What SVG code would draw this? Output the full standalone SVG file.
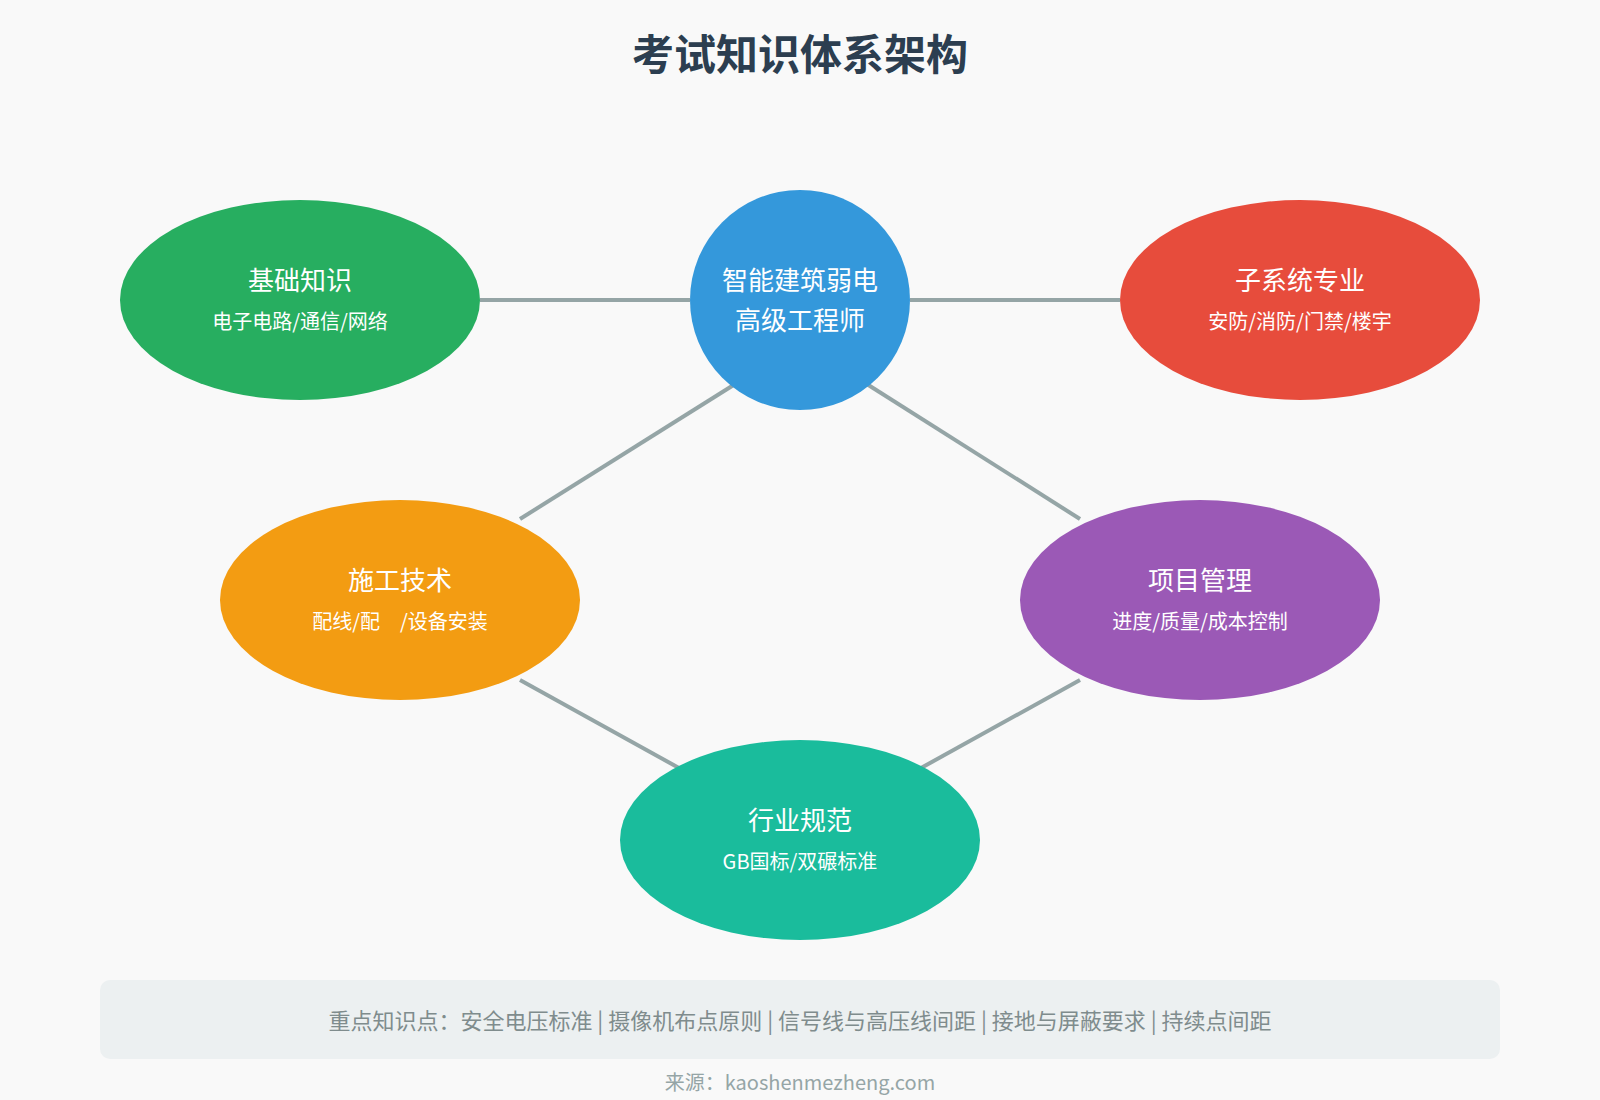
<svg xmlns="http://www.w3.org/2000/svg" width="1600" height="1100" viewBox="0 0 1600 1100">
<style>
text{font-family:"Noto Sans CJK SC","Noto Sans",sans-serif;text-anchor:middle}
.t{fill:#fff;font-size:26px}
.s{fill:#fff;font-size:20px}
.c{stroke:#95a5a6;stroke-width:4;fill:none}
</style>
<rect width="1600" height="1100" fill="#f9f9f9"/>
<text x="800" y="70" font-size="42" font-weight="bold" fill="#2c3e50">考试知识体系架构</text>
<g id="connectors">
<line class="c" x1="480" y1="300" x2="690" y2="300"/>
<line class="c" x1="910" y1="300" x2="1120" y2="300"/>
<line class="c" x1="740" y1="381" x2="520" y2="519"/>
<line class="c" x1="862" y1="381" x2="1080" y2="519"/>
<line class="c" x1="520" y1="680" x2="679" y2="768"/>
<line class="c" x1="1080" y1="680" x2="921" y2="768"/>
</g>
<g id="n1"><ellipse cx="300" cy="300" rx="180" ry="100" fill="#27ae60"/><text class="t" x="300" y="290">基础知识</text><text class="s" x="300" y="329">电子电路/通信/网络</text></g>
<g id="n0"><circle cx="800" cy="300" r="110" fill="#3498db"/><text class="t" x="800" y="290">智能建筑弱电</text><text class="t" x="800" y="330">高级工程师</text></g>
<g id="n2"><ellipse cx="1300" cy="300" rx="180" ry="100" fill="#e74c3c"/><text class="t" x="1300" y="290">子系统专业</text><text class="s" x="1300" y="329">安防/消防/门禁/楼宇</text></g>
<g id="n3"><ellipse cx="400" cy="600" rx="180" ry="100" fill="#f39c12"/><text class="t" x="400" y="590">施工技术</text><text class="s" x="400" y="629">配线/配　/设备安装</text></g>
<g id="n4"><ellipse cx="1200" cy="600" rx="180" ry="100" fill="#9b59b6"/><text class="t" x="1200" y="590">项目管理</text><text class="s" x="1200" y="629">进度/质量/成本控制</text></g>
<g id="n5"><ellipse cx="800" cy="840" rx="180" ry="100" fill="#1abc9c"/><text class="t" x="800" y="830">行业规范</text><text class="s" x="800" y="869">GB国标/双碾标准</text></g>
<g id="note"><rect x="100" y="980" width="1400" height="79" rx="10" fill="#ecf0f1"/><text x="800" y="1029" font-size="22" fill="#7f8c8d">重点知识点：安全电压标准 | 摄像机布点原则 | 信号线与高压线间距 | 接地与屏蔽要求 | 持续点间距</text></g>
<text x="800" y="1090" font-size="20" fill="#95a5a6">来源：kaoshenmezheng.com</text>
</svg>
